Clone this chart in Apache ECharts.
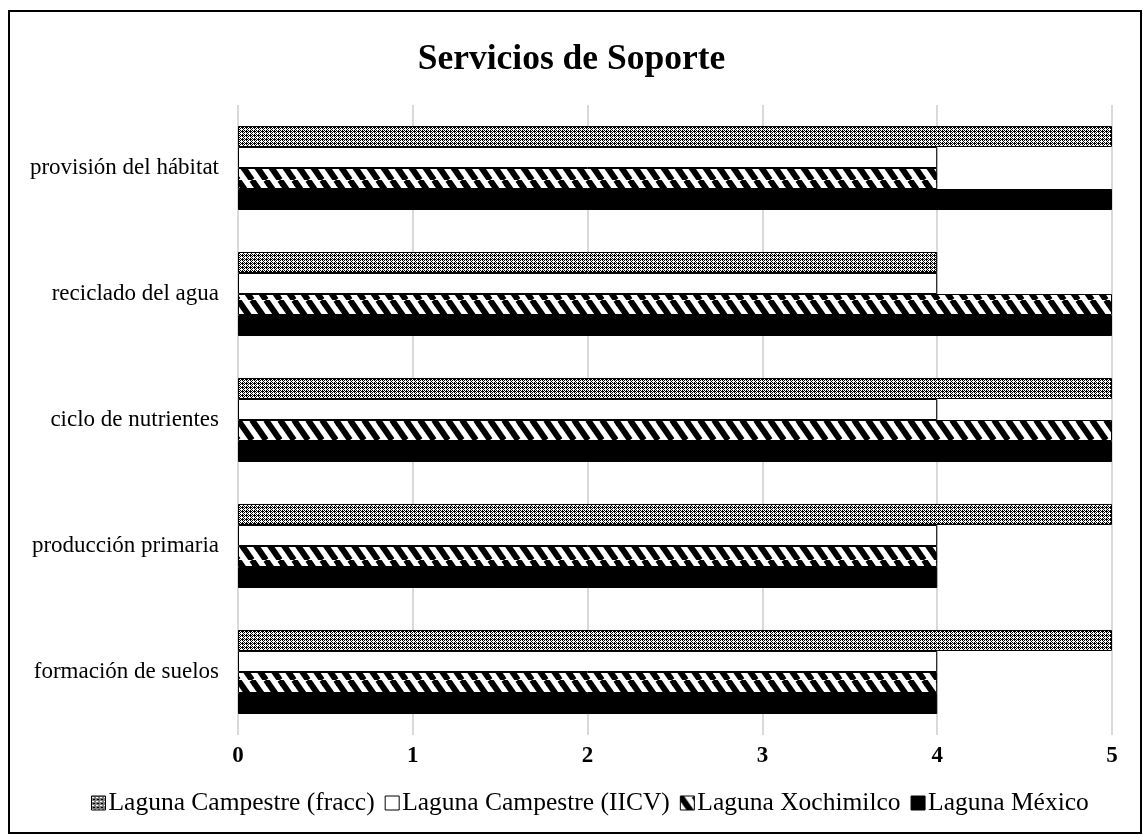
<!DOCTYPE html>
<html>
<head>
<meta charset="utf-8">
<script src="https://cdn.jsdelivr.net/npm/echarts@6/dist/echarts.min.js"></script>
<style>
html,body{margin:0;padding:0;background:#fff;}
#chart{width:1143px;height:836px;}
</style>
</head>
<body>
<div id="chart"></div>
<script>
const categories = ['formación de suelos', 'producción primaria', 'ciclo de nutrientes', 'reciclado del agua', 'provisión del hábitat'];
const seriesNames = ['Laguna Campestre (fracc)', 'Laguna Campestre (IICV)', 'Laguna Xochimilco', 'Laguna México'];
const campestreFracc = [5, 5, 5, 4, 5];
const campestreIICV = [4, 4, 4, 4, 4];
const xochimilco = [4, 4, 5, 5, 4];
const mexico = [4, 4, 5, 5, 5];
const xTicks = [0, 1, 2, 3, 4, 5];

function dotPattern() {
  const c = document.createElement('canvas');
  c.width = 4; c.height = 4;
  const ctx = c.getContext('2d');
  const img = ctx.createImageData(4, 4);
  const rows = ['BWBW','WWWB','BWBW','WBBB'];
  for (let y = 0; y < 4; y++) for (let x = 0; x < 4; x++) {
    const v = rows[y][x] === 'B' ? 0 : 255;
    const i = (y * 4 + x) * 4;
    img.data[i] = v; img.data[i+1] = v; img.data[i+2] = v; img.data[i+3] = 255;
  }
  ctx.putImageData(img, 0, 0);
  return c;
}
function stripePattern() {
  const w = 14, h = 20;
  const c = document.createElement('canvas');
  c.width = w; c.height = h;
  const ctx = c.getContext('2d');
  ctx.fillStyle = '#fff'; ctx.fillRect(0, 0, w, h);
  ctx.strokeStyle = '#000'; ctx.lineWidth = 6;
  for (let k = -1; k <= 1; k++) {
    ctx.beginPath();
    ctx.moveTo(k * w, 0); ctx.lineTo(k * w + w, h);
    ctx.stroke();
  }
  return c;
}
const dotFill = { image: dotPattern(), repeat: 'repeat' };
const stripeFill = { image: stripePattern(), repeat: 'repeat' };

const fills = [dotFill, '#ffffff', stripeFill, '#000000'];
const dataSets = [campestreFracc, campestreIICV, xochimilco, mexico];

const chart = echarts.init(document.getElementById('chart'), null, { renderer: 'canvas' });
const serif = '"Liberation Serif", "Times New Roman", serif';
const series = seriesNames.map((n, i) => ({
  name: n,
  type: 'bar',
  data: dataSets[i],
  barGap: '0%',
  barCategoryGap: '33.3%',
  itemStyle: { color: fills[i], borderColor: '#000', borderWidth: 1 },
  emphasis: { disabled: true },
  animation: false
}));

chart.setOption({
  animation: false,
  backgroundColor: '#fff',
  title: {
    text: 'Servicios de Soporte',
    left: 'center', top: 37,
    textStyle: { fontFamily: serif, fontSize: 35.5, fontWeight: 'bold', color: '#000' }
  },
  legend: {
    data: seriesNames,
    bottom: 15, left: 86,
    itemWidth: 14, itemHeight: 14, itemGap: 10,
    icon: 'rect',
    textStyle: { fontFamily: serif, fontSize: 25.5, color: '#000', padding: [0, 0, 0, -2] },
    itemStyle: { borderColor: '#000', borderWidth: 1 }
  },
  grid: { left: 238, right: 31, top: 105, bottom: 101, containLabel: false },
  xAxis: {
    type: 'value', min: 0, max: 5, interval: 1,
    axisLine: { show: false }, axisTick: { show: false },
    splitLine: { show: true, lineStyle: { color: '#d9d9d9', width: 2 } },
    axisLabel: { fontFamily: serif, fontSize: 23, fontWeight: 'bold', color: '#000', margin: 10,
      formatter: v => String(xTicks[v] !== undefined ? xTicks[v] : v) }
  },
  yAxis: {
    type: 'category', data: categories,
    axisLine: { show: false }, axisTick: { show: false },
    axisLabel: { fontFamily: serif, fontSize: 23, color: '#000', margin: 19 }
  },
  series: series,
  graphic: [{
    type: 'rect', shape: { x: 9, y: 11, width: 1132, height: 822 },
    style: { fill: 'none', stroke: '#000', lineWidth: 2 }, z: 100, silent: true
  }]
});
</script>
</body>
</html>
